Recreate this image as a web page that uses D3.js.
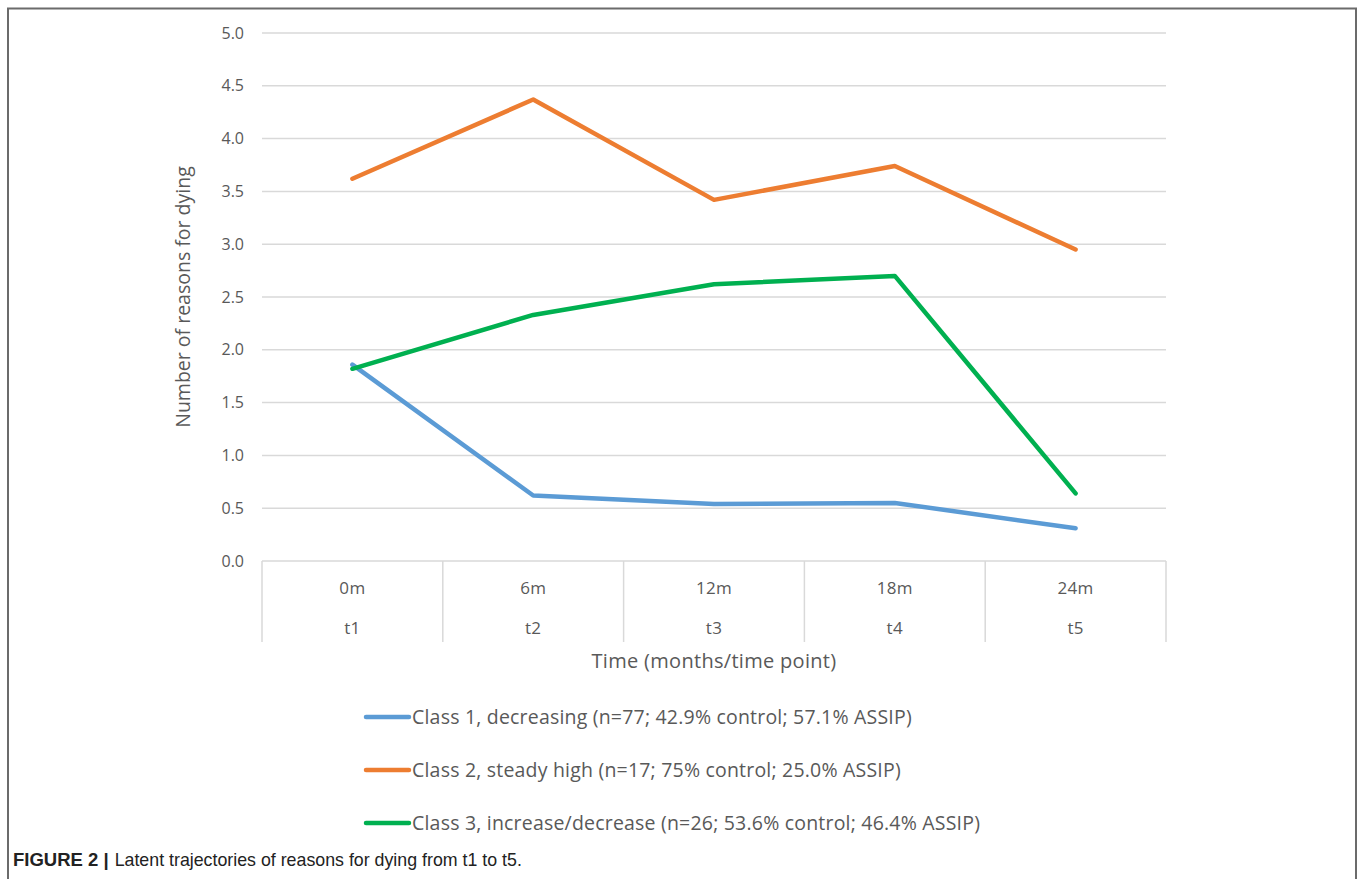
<!DOCTYPE html>
<html>
<head>
<meta charset="utf-8">
<script src="https://cdn.jsdelivr.net/npm/d3@7"></script>
<style>
  body { margin: 0; background: #fff; }
  svg { display: block; }
</style>
</head>
<body>
<div id="chart"></div>
<script>
// data
const months = ["0m", "6m", "12m", "18m", "24m"];
const timePoints = ["t1", "t2", "t3", "t4", "t5"];
const yTicks = [0, 0.5, 1, 1.5, 2, 2.5, 3, 3.5, 4, 4.5, 5];

const class1 = [1.86, 0.62, 0.54, 0.55, 0.31];
const class2 = [3.62, 4.37, 3.42, 3.74, 2.95];
const class3 = [1.82, 2.33, 2.62, 2.70, 0.64];

const seriesNames = [
    "Class 1, decreasing (n=77; 42.9% control; 57.1% ASSIP)",
    "Class 2, steady high (n=17; 75% control; 25.0% ASSIP)",
    "Class 3, increase/decrease (n=26; 53.6% control; 46.4% ASSIP)"
];
const seriesColors = ["#5b9bd5", "#ed7d31", "#00b050"];

const series = [class1, class2, class3].map((vals, i) => ({
    name: seriesNames[i],
    color: seriesColors[i],
    values: vals.map((v, j) => ({ t: timePoints[j], v: v }))
}));

const width = 1358, height = 879;
const font = "'Open Sans', sans-serif";
const textCol = "#595959";
const gridCol = "#d9d9d9";

const svg = d3.select("#chart").append("svg")
    .attr("width", width)
    .attr("height", height);

// outer frame
svg.append("rect")
    .attr("x", 8).attr("y", 8.5)
    .attr("width", 1348).attr("height", 880)
    .style("fill", "none")
    .style("stroke", "#6b6b6b")
    .style("stroke-width", 2);

const plot = { left: 262, right: 1166, top: 33, bottom: 561 };

const x = d3.scaleBand()
    .domain(timePoints)
    .range([plot.left, plot.right]);

const y = d3.scaleLinear()
    .domain([0, 5])
    .range([plot.bottom, plot.top]);

// horizontal gridlines
svg.append("g")
    .selectAll("line")
    .data(yTicks)
    .enter().append("line")
    .attr("x1", plot.left)
    .attr("x2", plot.right)
    .attr("y1", d => y(d))
    .attr("y2", d => y(d))
    .style("stroke", gridCol)
    .style("stroke-width", 1.5);

// y tick labels
svg.append("g")
    .selectAll("text")
    .data(yTicks)
    .enter().append("text")
    .attr("x", 244)
    .attr("y", d => y(d))
    .attr("dy", "0.35em")
    .style("text-anchor", "end")
    .style("font-family", font)
    .style("font-size", "16px")
    .style("fill", textCol)
    .text(d => d.toFixed(1));

// category box below the axis
const boundaries = timePoints.map(t => x(t)).concat([plot.right]);
svg.append("g")
    .selectAll("line")
    .data(boundaries)
    .enter().append("line")
    .attr("x1", d => d)
    .attr("x2", d => d)
    .attr("y1", plot.bottom)
    .attr("y2", 642)
    .style("stroke", gridCol)
    .style("stroke-width", 1.5);

const cats = svg.append("g")
    .selectAll("g")
    .data(timePoints)
    .enter().append("g")
    .attr("transform", d => `translate(${x(d) + x.bandwidth() / 2},0)`);

cats.append("text")
    .attr("y", 588)
    .attr("dy", "0.35em")
    .style("text-anchor", "middle")
    .style("font-family", font)
    .style("font-size", "17px")
    .style("letter-spacing", "0.3px")
    .style("fill", textCol)
    .text((d, i) => months[i]);

cats.append("text")
    .attr("y", 628)
    .attr("dy", "0.35em")
    .style("text-anchor", "middle")
    .style("font-family", font)
    .style("font-size", "17px")
    .style("letter-spacing", "0.3px")
    .style("fill", textCol)
    .text(d => d);

// axis titles
svg.append("text")
    .attr("x", (plot.left + plot.right) / 2)
    .attr("y", 661)
    .attr("dy", "0.35em")
    .style("text-anchor", "middle")
    .style("font-family", font)
    .style("font-size", "20px")
    .style("letter-spacing", "0.3px")
    .style("fill", textCol)
    .text("Time (months/time point)");

svg.append("text")
    .attr("transform", `translate(183,${(plot.top + plot.bottom) / 2}) rotate(-90)`)
    .attr("dy", "0.35em")
    .style("text-anchor", "middle")
    .style("font-family", font)
    .style("font-size", "19.5px")
    .style("fill", textCol)
    .text("Number of reasons for dying");

// lines
const line = d3.line()
    .x(d => x(d.t) + x.bandwidth() / 2)
    .y(d => y(d.v));

svg.append("g")
    .selectAll("path")
    .data(series)
    .enter().append("path")
    .attr("d", d => line(d.values))
    .style("fill", "none")
    .style("stroke", d => d.color)
    .style("stroke-width", 4.5)
    .style("stroke-linejoin", "round")
    .style("stroke-linecap", "round");

// legend
const legend = svg.append("g")
    .selectAll("g")
    .data(series)
    .enter().append("g")
    .attr("transform", (d, i) => `translate(366,${717 + i * 53})`);

legend.append("line")
    .attr("x1", 0)
    .attr("x2", 43)
    .style("stroke", d => d.color)
    .style("stroke-width", 4.5)
    .style("stroke-linecap", "round");

legend.append("text")
    .attr("x", 46)
    .attr("dy", "0.35em")
    .style("font-family", font)
    .style("font-size", "19.5px")
    .style("letter-spacing", "0.2px")
    .style("fill", textCol)
    .text(d => d.name);

// caption
const caption = svg.append("text")
    .attr("x", 13)
    .attr("y", 866)
    .style("font-family", "'Liberation Sans', Arial, sans-serif")
    .style("font-size", "17.8px")
    .style("fill", "#222");

caption.append("tspan")
    .style("font-weight", "bold")
    .style("font-size", "18.5px")
    .text("FIGURE 2 |");

caption.append("tspan")
    .attr("dx", 6)
    .text("Latent trajectories of reasons for dying from t1 to t5.");
</script>
</body>
</html>
